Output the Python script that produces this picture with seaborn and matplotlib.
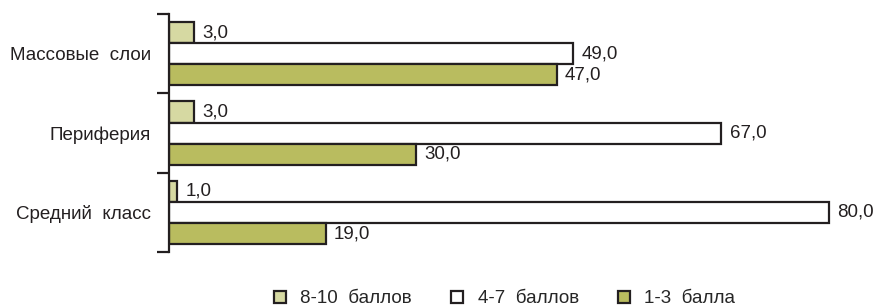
import matplotlib
matplotlib.use('Agg')
import matplotlib.pyplot as plt
import pandas as pd
import seaborn as sns

categories = ['Массовые  слои', 'Периферия', 'Средний  класс']
series = ['8-10  баллов', '4-7  баллов', '1-3  балла']
high = [3.0, 3.0, 1.0]
mid = [49.0, 67.0, 80.0]
low = [47.0, 30.0, 19.0]
colors = ['#d6d9a2', '#ffffff', '#b9bc5f']

rows = []
for s, vals in zip(series, [high, mid, low]):
    for c, v in zip(categories, vals):
        rows.append({'cat': c, 'series': s, 'value': v})
df = pd.DataFrame(rows)

sns.set_style('white')
plt.rcParams['font.family'] = ['Liberation Sans', 'DejaVu Sans']

fig = plt.figure(figsize=(8.76, 3.06), dpi=100)
ax = fig.add_axes([0.193, 0.176, 0.80, 0.778])

sns.barplot(data=df, y='cat', x='value', hue='series', order=categories,
            hue_order=series, palette=colors, orient='h', width=0.8,
            edgecolor='#231f20', linewidth=1.6, saturation=1, legend=False, ax=ax)

for cont in ax.containers:
    ax.bar_label(cont, labels=[f'{v:.1f}'.replace('.', ',') for v in cont.datavalues],
                 padding=6, fontsize=13.5, color='#231f20')

ax.set_xlim(0, 85)
ax.set_ylim(2.5, -0.5)
ax.set_xlabel('')
ax.set_ylabel('')
ax.set_xticks([])
for side in ['top', 'right', 'bottom']:
    ax.spines[side].set_visible(False)
ax.spines['left'].set_color('#231f20')
ax.spines['left'].set_linewidth(1.6)

ax.set_yticks(range(len(categories)))
ax.set_yticklabels(categories, fontsize=13.5, color='#231f20')
ax.tick_params(axis='y', which='major', length=0, pad=13)
ax.set_yticks([-0.5, 0.5, 1.5, 2.5], minor=True)
ax.tick_params(axis='y', which='minor', length=9, width=1.6, color='#231f20', left=True)

handles = [plt.Line2D([0], [0], marker='s', linestyle='', markersize=9,
                      markerfacecolor=col, markeredgecolor='#231f20', markeredgewidth=1.6)
           for col in colors]
fig.legend(handles, series, loc='lower center', bbox_to_anchor=(0.574, -0.06), ncol=3,
           frameon=False, fontsize=13.5, columnspacing=1.9, handlelength=1.0,
           handletextpad=0.6)

plt.savefig('out.png', dpi=100)
